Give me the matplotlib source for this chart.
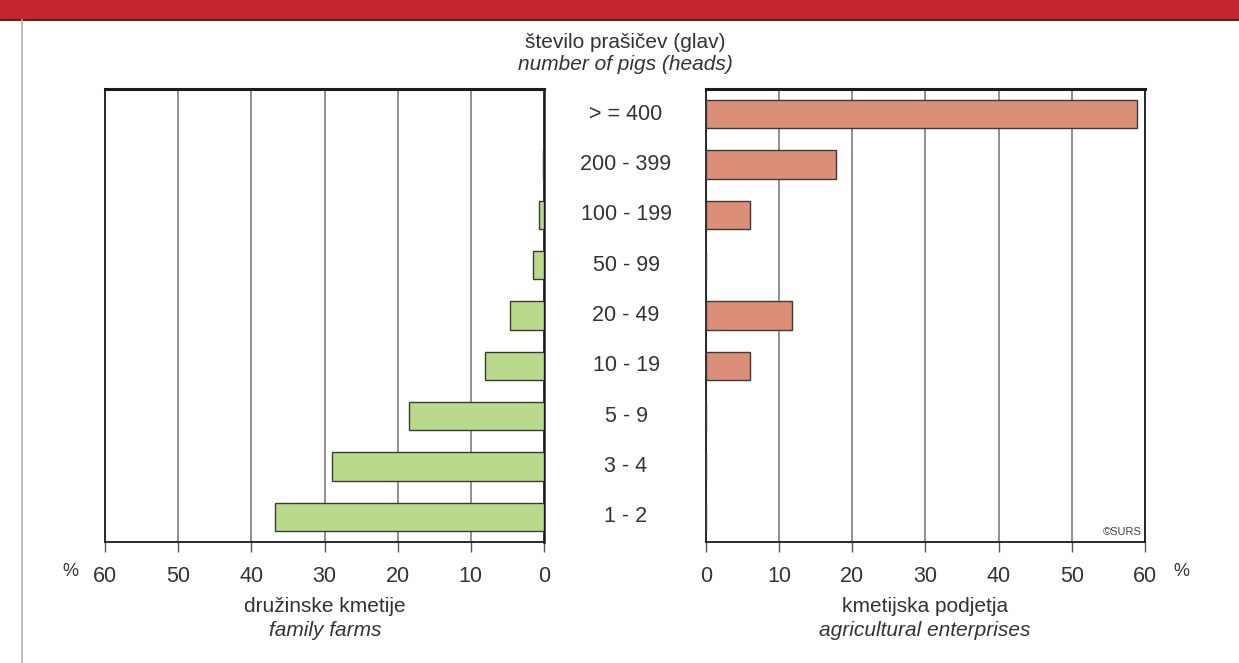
import matplotlib
matplotlib.use('Agg')
import matplotlib.pyplot as plt
import matplotlib.transforms as mtransforms
from matplotlib.patches import Rectangle
from matplotlib.lines import Line2D

plt.rcParams['font.family'] = ['Liberation Sans', 'DejaVu Sans']

# data (% of holdings)
categories = ['> = 400', '200 - 399', '100 - 199', '50 - 99', '20 - 49',
              '10 - 19', '5 - 9', '3 - 4', '1 - 2']
family_farms = [0.0, 0.2, 0.7, 1.5, 4.6, 8.1, 18.4, 29.0, 36.7]
enterprises = [58.9, 17.8, 6.0, 0.0, 11.8, 6.0, 0.0, 0.0, 0.0]
ticks = [0, 10, 20, 30, 40, 50, 60]

W, H = 1239, 663
fig = plt.figure(figsize=(W / 100, H / 100), dpi=100)
txt = '#333333'

# red header band and left border line
fig.patches.append(Rectangle((0, 1 - 20 / H), 1, 20 / H, transform=fig.transFigure,
                             facecolor='#c4262e', edgecolor='none'))
fig.lines.append(Line2D([0, 1], [1 - 20 / H, 1 - 20 / H], transform=fig.transFigure,
                        color='#6a1a1e', lw=1.5))
fig.lines.append(Line2D([22 / W, 22 / W], [0, 1 - 20 / H], transform=fig.transFigure,
                        color='#b0b0b0', lw=1.2))

bottom = 1 - 542 / H
height = 453 / H
axL = fig.add_axes([105 / W, bottom, 439 / W, height])
axR = fig.add_axes([706 / W, bottom, 439 / W, height])

y = list(range(len(categories)))
edge = '#3a3a3a'
axL.barh(y, family_farms, height=0.56, color='#b9d98b', edgecolor=edge, linewidth=1, zorder=3)
axR.barh(y, enterprises, height=0.56, color='#db8f78', edgecolor=edge, linewidth=1, zorder=3)

for ax in (axL, axR):
    ax.set_xlim(0, 60)
    ax.set_ylim(len(categories) - 0.5, -0.5)
    ax.set_yticks([])
    ax.set_xticks(ticks)
    ax.set_xticklabels([str(t) for t in ticks], fontsize=15.5, color=txt)
    ax.tick_params(axis='x', length=7, width=1, color='#555555', pad=10)
    ax.grid(axis='x', color='#7c7c86', lw=1.2, zorder=0)
    for s in ax.spines.values():
        s.set_color('#1a1a22')
        s.set_linewidth(1.3)
    ax.spines['top'].set_linewidth(2.2)

axL.invert_xaxis()
axL.spines['right'].set_linewidth(1.8)

# category labels between the panels
trans = mtransforms.blended_transform_factory(fig.transFigure, axL.transData)
for i, c in enumerate(categories):
    fig.text(626 / W, i, c, transform=trans, ha='center', va='center',
             fontsize=15.5, color=txt)

fig.text(625 / W, 1 - 42 / H, 'število prašičev (glav)', ha='center', va='center',
         fontsize=15, color=txt)
fig.text(625 / W, 1 - 65 / H, 'number of pigs (heads)', ha='center', va='center',
         fontsize=15, style='italic', color=txt)

fig.text(70 / W, 1 - 572 / H, '%', ha='center', va='center', fontsize=13, color=txt)
fig.text(1181 / W, 1 - 572 / H, '%', ha='center', va='center', fontsize=13, color=txt)

fig.text(325 / W, 1 - 606 / H, 'družinske kmetije', ha='center', va='center',
         fontsize=15, color=txt)
fig.text(325 / W, 1 - 631 / H, 'family farms', ha='center', va='center',
         fontsize=15, style='italic', color=txt)
fig.text(925 / W, 1 - 606 / H, 'kmetijska podjetja', ha='center', va='center',
         fontsize=15, color=txt)
fig.text(925 / W, 1 - 631 / H, 'agricultural enterprises', ha='center', va='center',
         fontsize=15, style='italic', color=txt)

axR.text(0.992, 0.012, '©SURS', transform=axR.transAxes, ha='right', va='bottom',
         fontsize=8, color='#444444')

fig.savefig('out.png', dpi=100, facecolor='white')
